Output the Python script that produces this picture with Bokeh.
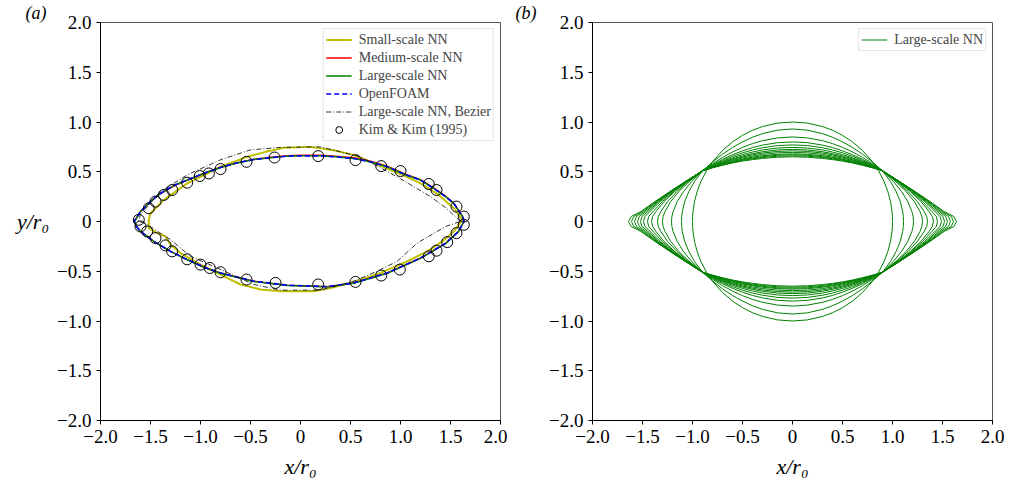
from bokeh.plotting import figure
from bokeh.models import Legend, LegendItem, FixedTicker, Range1d, Title
from bokeh.layouts import row
from bokeh.embed import file_html
from bokeh.resources import INLINE

# ---------------- Panel (a) data ----------------
small_x = [1.617, 1.533, 1.38, 1.2, 1.03, 0.867, 0.7, 0.533, 0.333, 0.1, -0.167, -0.35, -0.533, -0.8, -1.133, -1.367, -1.5,
           -1.517, -1.517, -1.433, -1.35, -1.30, -1.20, -1.0, -0.8, -0.6, -0.4, -0.2, 0.13, 0.333, 0.533, 0.8, 1.067, 1.267, 1.42, 1.533, 1.617]
small_y = [0.017, 0.133, 0.27, 0.383, 0.465, 0.533, 0.60, 0.667, 0.717, 0.75, 0.74, 0.70, 0.65, 0.55, 0.383, 0.217, 0.083,
           0.017, -0.067, -0.117, -0.15, -0.233, -0.317, -0.433, -0.533, -0.633, -0.683, -0.70, -0.70, -0.66, -0.607, -0.517, -0.40, -0.30, -0.20, -0.10, 0.017]

med_x = [1.635, 1.62, 1.533, 1.45, 1.35, 1.2, 1.05, 0.867, 0.7, 0.533, 0.35, 0.2, 0.0, -0.133, -0.3, -0.467, -0.65, -0.8, -0.95, -1.133, -1.25, -1.40, -1.48, -1.55, -1.6, -1.665,
         -1.64, -1.6, -1.467, -1.30, -1.133, -0.95, -0.8, -0.467, -0.133, 0.267, 0.533, 0.867, 1.2, 1.45, 1.58, 1.635]
med_y = [0.0, 0.05, 0.185, 0.255, 0.325, 0.42, 0.475, 0.555, 0.605, 0.64, 0.655, 0.665, 0.665, 0.66, 0.645, 0.625, 0.585, 0.545, 0.49, 0.415, 0.365, 0.28, 0.22, 0.15, 0.10, 0.0,
         -0.05, -0.10, -0.20, -0.30, -0.383, -0.465, -0.517, -0.60, -0.64, -0.655, -0.617, -0.517, -0.367, -0.22, -0.10, 0.0]

large_x = [1.635, 1.62, 1.533, 1.45, 1.35, 1.2, 1.05, 0.867, 0.7, 0.533, 0.35, 0.2, 0.0, -0.133, -0.3, -0.467, -0.65, -0.8, -0.95, -1.133, -1.25, -1.40, -1.48, -1.55, -1.6, -1.66,
           -1.64, -1.6, -1.467, -1.30, -1.133, -0.95, -0.8, -0.467, -0.133, 0.267, 0.533, 0.867, 1.2, 1.45, 1.58, 1.635]
large_y = [0.0, 0.05, 0.183, 0.25, 0.32, 0.417, 0.47, 0.55, 0.60, 0.633, 0.65, 0.66, 0.66, 0.657, 0.64, 0.623, 0.585, 0.543, 0.49, 0.417, 0.37, 0.283, 0.22, 0.15, 0.10, 0.0,
           -0.05, -0.10, -0.20, -0.30, -0.385, -0.468, -0.52, -0.603, -0.643, -0.657, -0.62, -0.52, -0.37, -0.222, -0.10, 0.0]

foam_x = [1.635, 1.62, 1.533, 1.45, 1.35, 1.2, 1.05, 0.867, 0.7, 0.533, 0.35, 0.2, 0.0, -0.133, -0.3, -0.467, -0.65, -0.8, -0.95, -1.133, -1.25, -1.40, -1.48, -1.55, -1.6, -1.665,
          -1.64, -1.6, -1.467, -1.30, -1.133, -0.95, -0.8, -0.467, -0.133, 0.267, 0.533, 0.867, 1.2, 1.45, 1.58, 1.635]
foam_y = [0.0, 0.05, 0.183, 0.25, 0.32, 0.417, 0.47, 0.55, 0.60, 0.633, 0.65, 0.66, 0.66, 0.657, 0.64, 0.623, 0.585, 0.543, 0.49, 0.417, 0.37, 0.283, 0.22, 0.15, 0.10, 0.0,
          -0.05, -0.10, -0.20, -0.30, -0.383, -0.465, -0.517, -0.60, -0.64, -0.655, -0.617, -0.517, -0.367, -0.22, -0.10, 0.0]

bez_x = [1.60, 1.45, 1.30, 1.0, 0.6, 0.2, -0.2, -0.5, -0.8, -1.13, -1.4, -1.6, -1.62,
         -1.55, -1.3, -1.1, -0.87, -0.467, -0.2, 0.2, 0.533, 0.767, 0.967, 1.167, 1.45, 1.60]
bez_y = [0.0, 0.14, 0.25, 0.43, 0.65, 0.75, 0.745, 0.72, 0.62, 0.47, 0.30, 0.07, 0.0,
         -0.02, -0.183, -0.35, -0.45, -0.633, -0.69, -0.69, -0.60, -0.50, -0.40, -0.217, -0.05, 0.0]

kim_x = [-1.617, -1.517, -1.45, -1.367, -1.283, -1.133, -1.007, -0.917, -0.80, -0.54, -0.26, 0.177, 0.55, 0.807, 1.0, 1.283, 1.36, 1.56, 1.633,
         -1.60, -1.533, -1.45, -1.35, -1.283, -1.133, -1.0, -0.907, -0.80, -0.54, -0.25, 0.177, 0.55, 0.807, 0.993, 1.283, 1.36, 1.467, 1.56, 1.633]
kim_y = [0.017, 0.133, 0.20, 0.267, 0.317, 0.39, 0.457, 0.483, 0.527, 0.60, 0.643, 0.657, 0.617, 0.557, 0.507, 0.377, 0.317, 0.15, 0.05,
         -0.05, -0.10, -0.167, -0.24, -0.30, -0.38, -0.433, -0.467, -0.51, -0.583, -0.617, -0.633, -0.607, -0.543, -0.483, -0.35, -0.293, -0.207, -0.117, -0.033]

# ---------------- Panel (b) data (upper-right quadrant of each snapshot) ----------------
tip_y_levels = [0.0, 0.05, 0.1, 0.2, 0.3, 0.4, 0.51]
top_x_levels = [0.8, 0.7, 0.6, 0.5, 0.4, 0.3, 0.15, 0.0]
tip_x = [
    [1.00, 0.999, 0.995, 0.98, 0.954, 0.917, 0.86],
    [1.11, 1.108, 1.102, 1.078, 1.037, 0.981, 0.90],
    [1.21, 1.206, 1.194, 1.153, 1.091, 1.010, 0.90],
    [1.30, 1.294, 1.275, 1.218, 1.138, 1.035, 0.90],
    [1.35, 1.342, 1.317, 1.249, 1.157, 1.045, 0.90],
    [1.41, 1.398, 1.366, 1.285, 1.180, 1.056, 0.90],
    [1.45, 1.438, 1.394, 1.302, 1.188, 1.058, 0.90],
    [1.49, 1.476, 1.425, 1.323, 1.201, 1.065, 0.90],
    [1.52, 1.505, 1.446, 1.336, 1.209, 1.067, 0.90],
    [1.55, 1.532, 1.466, 1.349, 1.215, 1.069, 0.90],
    [1.58, 1.560, 1.484, 1.359, 1.220, 1.072, 0.90],
    [1.61, 1.588, 1.501, 1.369, 1.224, 1.073, 0.90],
    [1.64, 1.614, 1.517, 1.376, 1.227, 1.073, 0.90],
]
top_y = [
    [0.600, 0.714, 0.800, 0.866, 0.917, 0.954, 0.989, 1.000],
    [0.598, 0.676, 0.744, 0.800, 0.847, 0.883, 0.918, 0.930],
    [0.581, 0.644, 0.699, 0.745, 0.783, 0.812, 0.840, 0.850],
    [0.571, 0.625, 0.671, 0.710, 0.743, 0.768, 0.792, 0.800],
    [0.565, 0.613, 0.655, 0.690, 0.719, 0.741, 0.763, 0.770],
    [0.559, 0.603, 0.641, 0.672, 0.698, 0.719, 0.738, 0.745],
    [0.555, 0.595, 0.630, 0.659, 0.682, 0.701, 0.719, 0.725],
    [0.552, 0.589, 0.621, 0.648, 0.670, 0.688, 0.704, 0.710],
    [0.549, 0.583, 0.613, 0.638, 0.658, 0.674, 0.690, 0.695],
    [0.546, 0.577, 0.604, 0.627, 0.646, 0.661, 0.675, 0.680],
    [0.544, 0.573, 0.599, 0.621, 0.638, 0.652, 0.666, 0.670],
    [0.542, 0.569, 0.593, 0.614, 0.630, 0.643, 0.656, 0.660],
    [0.539, 0.565, 0.588, 0.607, 0.622, 0.634, 0.646, 0.650],
]

ticks = [-2.0, -1.5, -1.0, -0.5, 0.0, 0.5, 1.0, 1.5, 2.0]
tick_labels = ["\u22122.0", "\u22121.5", "\u22121.0", "\u22120.5", "0", "0.5", "1.0", "1.5", "2.0"]

SERIF = "Liberation Serif"


def make_fig(width, left, right, tag, tag_offset):
    p = figure(width=width, height=485, output_backend="svg", toolbar_location=None,
               x_range=Range1d(-2, 2), y_range=Range1d(-2, 2),
               min_border_left=left, min_border_right=right, min_border_top=20, min_border_bottom=65)
    p.grid.visible = False
    p.outline_line_color = "#555555"
    p.outline_line_width = 1
    p.background_fill_color = "white"
    p.border_fill_color = "white"
    for ax in (p.xaxis[0], p.yaxis[0]):
        ax.ticker = FixedTicker(ticks=ticks)
        ax.major_label_overrides = {t: l for t, l in zip(ticks, tick_labels)}
        ax.major_label_text_font = SERIF
        ax.major_label_text_font_size = "19px"
        ax.major_label_text_color = "black"
        ax.axis_line_color = "black"
        ax.major_tick_line_color = "black"
        ax.major_tick_out = 4
        ax.major_tick_in = 0
        ax.minor_tick_line_color = None
        ax.major_label_standoff = 5
        ax.axis_label_text_font = SERIF
        ax.axis_label_text_font_size = "22px"
        ax.axis_label_text_font_style = "italic"
        ax.axis_label_text_color = "black"
    p.xaxis[0].axis_label = "x/r\u2080"
    p.xaxis[0].axis_label_standoff = 8
    p.add_layout(Title(text=tag, align="left", offset=tag_offset, standoff=0, text_font=SERIF,
                       text_font_size="18px", text_font_style="italic", text_color="black"), "above")
    return p


# ---------- Panel (a) ----------
pa = make_fig(507, 100, 7, "(a)", -75)
pa.yaxis[0].axis_label = "y/r\u2080"
pa.yaxis[0].axis_label_orientation = "horizontal"
r_small = pa.line(small_x, small_y, line_color="#bfbf00", line_width=2)
r_med = pa.line(med_x, med_y, line_color="#ff0000", line_width=1.5)
r_large = pa.line(large_x, large_y, line_color="#008000", line_width=1.5)
r_foam = pa.line(foam_x, foam_y, line_color="#0000ff", line_width=1.6, line_dash="5 3")
r_bez = pa.line(bez_x, bez_y, line_color="black", line_width=0.8, line_dash="5 2 1 2")
r_kim = pa.scatter(kim_x, kim_y, marker="circle", size=11, fill_color=None, line_color="black", line_width=1)

leg_a = Legend(items=[
    LegendItem(label="Small-scale NN", renderers=[r_small]),
    LegendItem(label="Medium-scale NN", renderers=[r_med]),
    LegendItem(label="Large-scale NN", renderers=[r_large]),
    LegendItem(label="OpenFOAM", renderers=[r_foam]),
    LegendItem(label="Large-scale NN, Bezier", renderers=[r_bez]),
    LegendItem(label="Kim & Kim (1995)", renderers=[r_kim]),
], location="top_right")

# ---------- Panel (b) ----------
pb = make_fig(508, 85, 23, "(b)", -77)
first = None
for tx, ty in zip(tip_x, top_y):
    q = [(x, y) for x, y in zip(tx, tip_y_levels)] + [(x, y) for x, y in zip(top_x_levels, ty)]
    q2 = [(-x, y) for x, y in reversed(q)][1:]
    q3 = [(-x, -y) for x, y in q][1:]
    q4 = [(x, -y) for x, y in reversed(q)][1:]
    loop = q + q2 + q3 + q4
    r = pb.line([pt[0] for pt in loop], [pt[1] for pt in loop], line_color="#008000", line_width=1)
    if first is None:
        first = r

leg_b = Legend(items=[LegendItem(label="Large-scale NN", renderers=[first])], location="top_right")

for p, lg in ((pa, leg_a), (pb, leg_b)):
    lg.label_text_font = SERIF
    lg.label_text_font_size = "14px"
    lg.glyph_width = 26
    lg.glyph_height = 17
    lg.label_height = 17
    lg.label_standoff = 7
    lg.spacing = 1
    lg.padding = 2
    lg.margin = 6
    lg.border_line_color = "#cccccc"
    lg.border_line_width = 1
    lg.background_fill_alpha = 0.9
    p.add_layout(lg)

layout = row(pa, pb)
open("out.html", "w").write(file_html(layout, INLINE))
